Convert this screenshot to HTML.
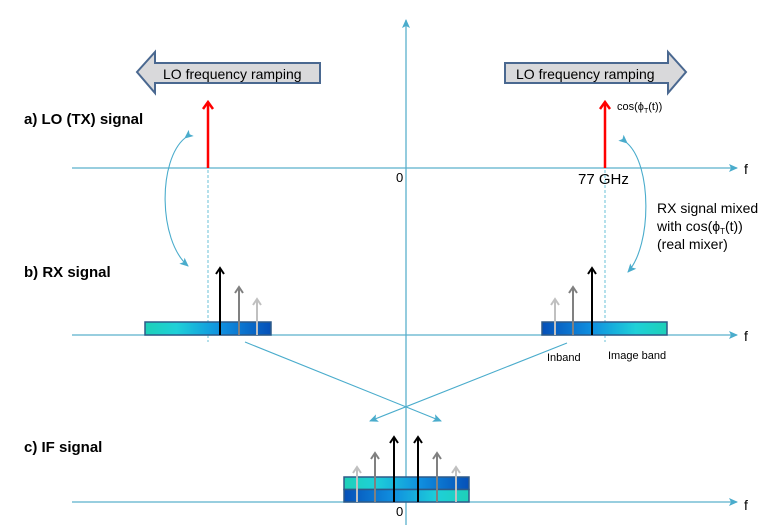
<!DOCTYPE html>
<html><head><meta charset="utf-8"><style>
html,body{margin:0;padding:0;background:#fff;}
svg{display:block;font-family:"Liberation Sans",sans-serif;}
</style></head><body>
<svg width="774" height="525" viewBox="0 0 774 525">
<defs>
<linearGradient id="tb" x1="0" x2="1"><stop offset="0" stop-color="#1ed0b8"/><stop offset="0.25" stop-color="#1ed0d8"/><stop offset="0.6" stop-color="#1090e0"/><stop offset="1" stop-color="#0550b8"/></linearGradient>
<linearGradient id="bt" x1="1" x2="0"><stop offset="0" stop-color="#1ed0b8"/><stop offset="0.25" stop-color="#1ed0d8"/><stop offset="0.6" stop-color="#1090e0"/><stop offset="1" stop-color="#0550b8"/></linearGradient>
<marker id="ab" markerWidth="10" markerHeight="10" refX="8" refY="5" orient="auto" markerUnits="userSpaceOnUse"><path d="M0,1 L9,5 L0,9 L2,5 Z" fill="#4aaccc"/></marker>
</defs>
<g stroke="#5ab0cc" stroke-width="1.3" fill="none">
<line x1="406" y1="525" x2="406" y2="20" marker-end="url(#ab)"/>
<line x1="72" y1="168" x2="737" y2="168" marker-end="url(#ab)"/>
<line x1="72" y1="335" x2="737" y2="335" marker-end="url(#ab)"/>
<line x1="72" y1="502" x2="737" y2="502" marker-end="url(#ab)"/>
</g>
<g font-size="14" fill="#000"><text x="744" y="174">f</text><text x="744" y="341">f</text><text x="744" y="510">f</text></g>
<polygon points="137,72 155,52 155,63 320,63 320,83 155,83 155,93" fill="#d9d9db" stroke="#4a6890" stroke-width="2"/>
<polygon points="686,72 668,52 668,63 505,63 505,83 668,83 668,93" fill="#d9d9db" stroke="#4a6890" stroke-width="2"/>
<text x="163" y="79" font-size="14">LO frequency ramping</text>
<text x="516" y="79" font-size="14">LO frequency ramping</text>
<g font-size="15" font-weight="bold"><text x="24" y="124">a) LO (TX) signal</text><text x="24" y="277">b) RX signal</text><text x="24" y="452">c) IF signal</text></g>
<g stroke="#f00" stroke-width="2.5" fill="none"><line x1="208" y1="168" x2="208" y2="103"/><polyline points="203,109 208,102 213,109"/><line x1="605" y1="168" x2="605" y2="103"/><polyline points="600,109 605,102 610,109"/></g>
<text x="617" y="110" font-size="11">cos(ϕ<tspan font-size="7" dy="3">T</tspan><tspan dy="-3">(t))</tspan></text>
<text x="396" y="182" font-size="13">0</text>
<text x="578" y="184" font-size="15">77 GHz</text>
<g font-size="14"><text x="657" y="213">RX signal mixed</text><text x="657" y="231">with cos(ϕ<tspan font-size="8" dy="3">T</tspan><tspan dy="-3">(t))</tspan></text><text x="657" y="249">(real mixer)</text></g>
<g stroke="#8ccfe0" stroke-width="1.3" stroke-dasharray="3,2"><line x1="208" y1="170" x2="208" y2="342"/><line x1="605" y1="170" x2="605" y2="342"/></g>
<g stroke="#4aaccc" stroke-width="1.1" fill="none">
<path d="M185,138 C158,160 158,240 188,266" marker-start="url(#ab)" marker-end="url(#ab)"/>
<path d="M627,143 C652,165 652,245 628,272" marker-start="url(#ab)" marker-end="url(#ab)"/>
<line x1="245" y1="342" x2="441" y2="421" marker-end="url(#ab)"/>
<line x1="567" y1="343" x2="370" y2="421" marker-end="url(#ab)"/>
</g>
<rect x="145" y="322" width="126" height="13" fill="url(#tb)" stroke="#2e5a88" stroke-width="1.5"/>
<rect x="542" y="322" width="125" height="13" fill="url(#bt)" stroke="#2e5a88" stroke-width="1.5"/>
<rect x="344" y="477" width="125" height="12.5" fill="url(#tb)" stroke="#2e5a88" stroke-width="1.5"/>
<rect x="344" y="489.5" width="125" height="12.5" fill="url(#bt)" stroke="#2e5a88" stroke-width="1.5"/>
<g fill="none" stroke-width="2">
<g stroke="#000"><line x1="220" y1="335" x2="220" y2="268"/><polyline points="216,274 220,268 224,274"/><line x1="592" y1="335" x2="592" y2="268"/><polyline points="588,274 592,268 596,274"/>
<line x1="394" y1="502" x2="394" y2="437"/><polyline points="390,443 394,437 398,443"/><line x1="418" y1="502" x2="418" y2="437"/><polyline points="414,443 418,437 422,443"/></g>
<g stroke="#808080"><line x1="239" y1="335" x2="239" y2="287"/><polyline points="235,293 239,287 243,293"/><line x1="573" y1="335" x2="573" y2="287"/><polyline points="569,293 573,287 577,293"/>
<line x1="375" y1="502" x2="375" y2="453"/><polyline points="371,459 375,453 379,459"/><line x1="437" y1="502" x2="437" y2="453"/><polyline points="433,459 437,453 441,459"/></g>
<g stroke="#c0c0c0"><line x1="257" y1="335" x2="257" y2="299"/><polyline points="253,305 257,299 261,305"/><line x1="555" y1="335" x2="555" y2="299"/><polyline points="551,305 555,299 559,305"/>
<line x1="357" y1="502" x2="357" y2="467"/><polyline points="353,473 357,467 361,473"/><line x1="456" y1="502" x2="456" y2="467"/><polyline points="452,473 456,467 460,473"/></g>
</g>
<g font-size="11"><text x="547" y="361">Inband</text><text x="608" y="359">Image band</text></g>
<text x="396" y="516" font-size="13">0</text>
</svg>
</body></html>
